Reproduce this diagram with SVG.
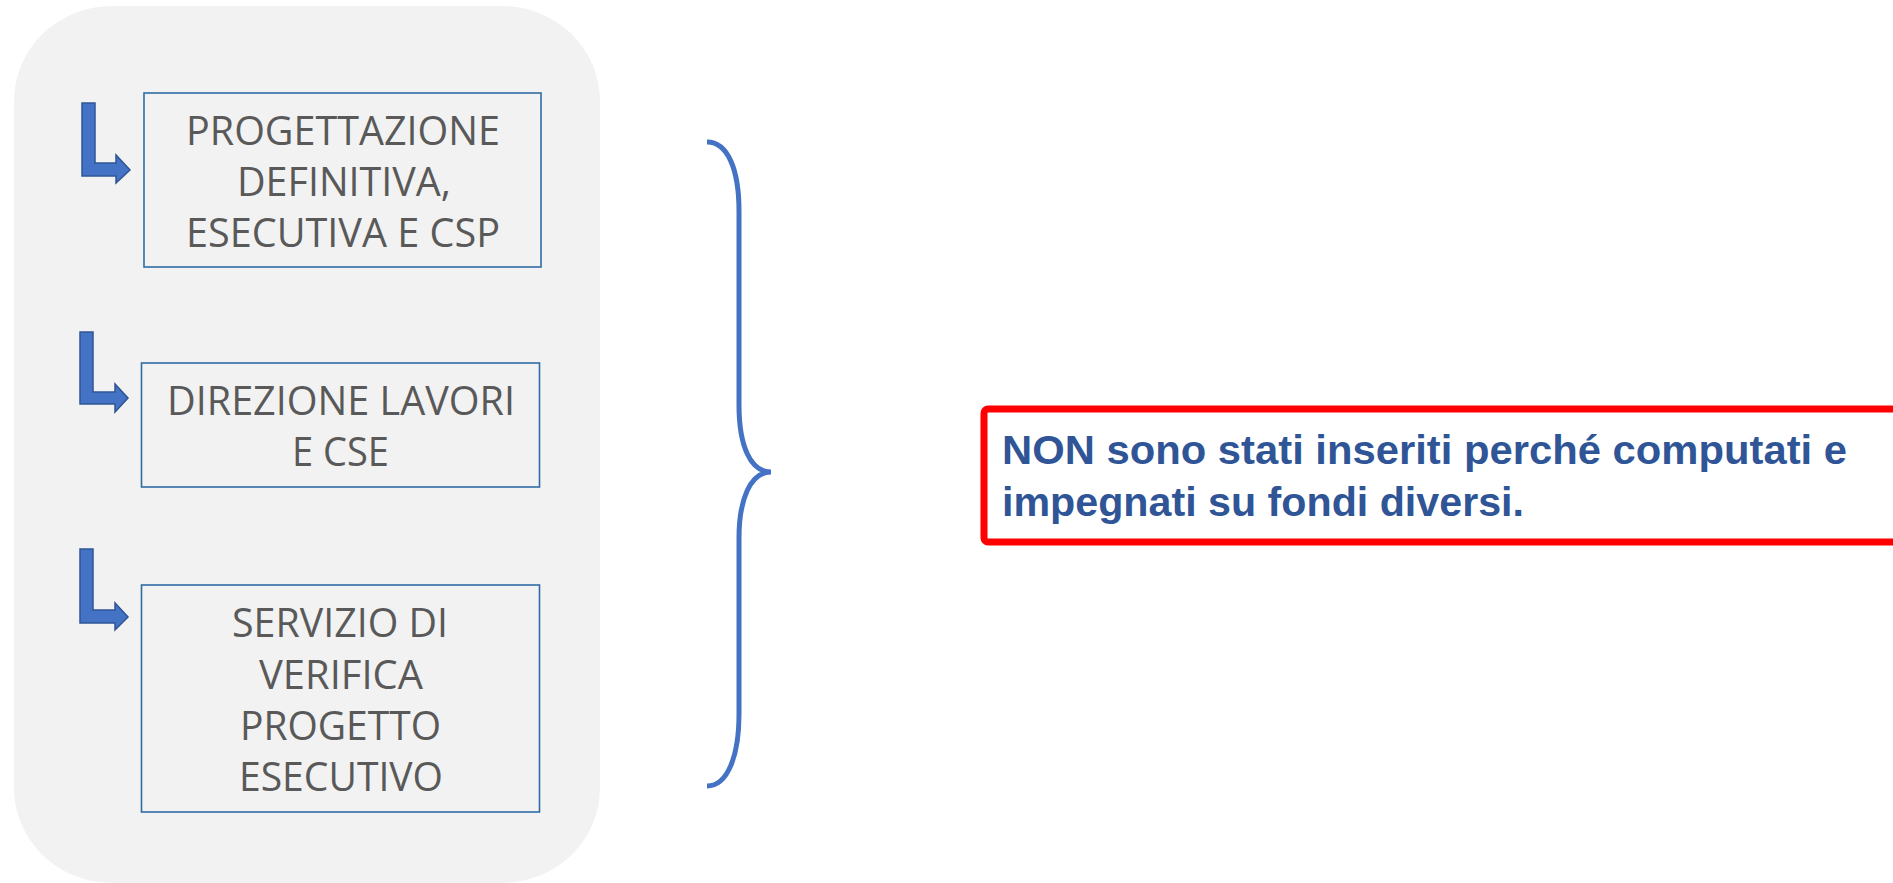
<svg xmlns="http://www.w3.org/2000/svg" width="1893" height="883" viewBox="0 0 1893 883">
<style>
.bg{fill:#F2F2F2}
.box{fill:none;stroke:#2E6DA4;stroke-width:1.6}
.lbl{font-family:"Open Sans","Liberation Sans",sans-serif;font-weight:400;font-size:41px;fill:#595959;text-anchor:middle}
.arr{fill:#4472C4;stroke:#2F5597;stroke-width:1.5;stroke-linejoin:miter}
.brace{fill:none;stroke:#4472C4;stroke-width:5}
.note{fill:#FFFFFF;stroke:#FF0000;stroke-width:7}
.ntxt{font-family:"Liberation Sans",Arial,sans-serif;font-weight:bold;font-size:41px;fill:#2F5597}
</style>
<rect x="0" y="0" width="1893" height="883" fill="#FFFFFF"/>
<rect class="bg" x="14" y="6" width="586" height="877" rx="98" ry="95"/>

<g id="connectors">
<path class="arr" d="M82,103 L95,103 L95,163 L116,163 L116,155 L130,170 L116,183 L116,176 L82,176 Z"/>
<path class="arr" d="M80,332 L93,332 L93,392 L115,392 L115,384 L128,398 L115,412 L115,404 L80,404 Z"/>
<path class="arr" d="M80,549 L93,549 L93,610 L115,610 L115,603 L128,617 L115,630 L115,623 L80,623 Z"/>
<path class="brace" d="M707,142 C728,142 739,170 739,211 L739,405 C739,445 750,472 771,472 C750,472 739,500 739,538 L739,714 C739,755 728,786 707,786"/>
</g>

<g id="node1">
<rect class="box" x="144" y="93" width="397" height="174"/>
<text class="lbl" x="343" y="145" textLength="314" lengthAdjust="spacingAndGlyphs">PROGETTAZIONE</text>
<text class="lbl" x="344" y="196" textLength="214" lengthAdjust="spacingAndGlyphs">DEFINITIVA,</text>
<text class="lbl" x="343" y="247" textLength="314" lengthAdjust="spacingAndGlyphs">ESECUTIVA E CSP</text>
</g>

<g id="node2">
<rect class="box" x="141.5" y="363" width="398" height="124"/>
<text class="lbl" x="341" y="415" textLength="348" lengthAdjust="spacingAndGlyphs">DIREZIONE LAVORI</text>
<text class="lbl" x="340.5" y="466" textLength="97" lengthAdjust="spacingAndGlyphs">E CSE</text>
</g>

<g id="node3">
<rect class="box" x="141.5" y="585" width="398" height="227"/>
<text class="lbl" x="340" y="637" textLength="216" lengthAdjust="spacingAndGlyphs">SERVIZIO DI</text>
<text class="lbl" x="341" y="689" textLength="164" lengthAdjust="spacingAndGlyphs">VERIFICA</text>
<text class="lbl" x="340.5" y="740" textLength="201" lengthAdjust="spacingAndGlyphs">PROGETTO</text>
<text class="lbl" x="341" y="791" textLength="204" lengthAdjust="spacingAndGlyphs">ESECUTIVO</text>
</g>

<g id="note">
<rect class="note" x="984" y="409" width="940" height="133" rx="4" ry="4"/>
<text class="ntxt" x="1002" y="464" textLength="845" lengthAdjust="spacingAndGlyphs">NON sono stati inseriti perché computati e</text>
<text class="ntxt" x="1002" y="516" textLength="522" lengthAdjust="spacingAndGlyphs">impegnati su fondi diversi.</text>
</g>
</svg>
